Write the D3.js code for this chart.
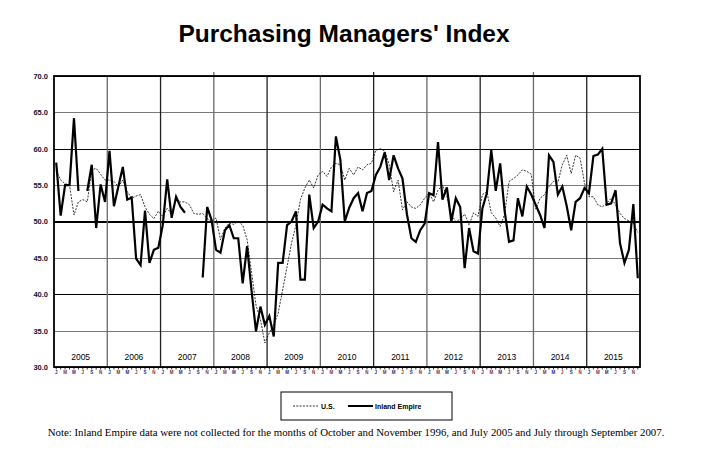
<!DOCTYPE html>
<html lang="en">
<head>
    <meta charset="UTF-8">
    <title>Purchasing Managers' Index</title>
    <style>
        body {
            margin: 0;
            padding: 0;
            background-color: white;
            font-family: "Liberation Sans", Arial, sans-serif;
        }
        .grid line { shape-rendering: crispEdges; }
    </style>
</head>
<body>
    <div id="container"></div>

    <script src="https://d3js.org/d3.v7.min.js"></script>
    <script>
        // years on the x axis, one band of 12 months each
        const years = ["2005", "2006", "2007", "2008", "2009", "2010", "2011", "2012", "2013", "2014", "2015"];
        const monthLetters = ["J", "F", "M", "A", "M", "J", "J", "A", "S", "O", "N", "D"];
        const yTicks = [30, 35, 40, 45, 50, 55, 60, 65, 70];

        // U.S. PMI, Jan 2005 .. Dec 2015
        const usValues = [
            57.0, 55.7, 55.2, 55.0, 50.9, 52.7, 53.0, 52.7, 57.1, 57.3, 56.5, 55.7,
            55.7, 55.5, 54.8, 55.7, 54.1, 53.2, 53.5, 53.7, 52.0, 51.0, 50.4, 51.4,
            50.7, 51.8, 51.0, 53.2, 52.7, 52.7, 52.3, 51.1, 51.0, 51.1, 50.4, 50.0,
            50.5, 47.5, 49.1, 49.8, 49.6, 50.0, 49.5, 47.5, 43.0, 38.5, 36.5, 33.3,
            34.7, 35.8, 37.4, 40.6, 43.8, 47.0, 49.5, 53.0, 54.6, 55.7, 54.6, 56.4,
            56.9, 56.2, 57.5, 58.0, 57.8, 55.7, 57.3, 56.4, 57.5, 57.1, 57.8, 58.0,
            59.8, 60.0, 59.7, 57.8, 54.1, 55.7, 51.6, 52.7, 52.0, 51.8, 52.3, 53.2,
            53.9, 52.7, 54.3, 55.0, 53.4, 50.9, 50.0, 50.3, 51.0, 49.5, 51.2, 50.7,
            53.7, 54.1, 51.2, 50.5, 49.3, 51.0, 55.5, 55.9, 56.4, 57.1, 56.9, 56.5,
            51.7, 53.2, 53.7, 54.8, 55.5, 55.4, 57.8, 59.1, 56.6, 59.1, 58.7, 55.3,
            53.4, 53.4, 52.3, 52.0, 52.5, 53.2, 52.3, 51.1, 50.4, 50.1, 49.8, 48.5
        ];

        // Inland Empire PMI, null = not collected
        const ieValues = [
            58.1, 50.8, 55.0, 55.0, 64.2, 54.2, null, 54.2, 57.8, 49.1, 55.1, 52.7,
            59.7, 52.1, 54.8, 57.5, 53.0, 53.3, 44.9, 44.0, 51.5, 44.3, 46.1, 46.4,
            49.5, 55.8, 50.5, 53.4, 52.0, 51.2, null, null, null, 42.3, 52.0, 50.2,
            46.1, 45.7, 48.8, 49.5, 47.7, 47.7, 41.5, 46.6, 40.5, 34.9, 38.3, 35.8,
            37.0, 34.2, 44.3, 44.3, 49.5, 50.0, 51.4, 42.0, 42.0, 53.7, 49.1, 50.0,
            52.3, 51.8, 51.4, 61.7, 58.5, 50.0, 51.9, 53.2, 53.9, 51.4, 53.9, 54.2,
            56.4, 57.5, 59.5, 55.7, 59.1, 57.3, 55.9, 51.0, 47.7, 47.2, 48.8, 49.7,
            53.9, 53.6, 60.9, 53.0, 54.7, 50.0, 53.2, 52.0, 43.6, 49.1, 45.9, 45.6,
            51.8, 53.9, 59.8, 54.2, 58.0, 51.5, 47.2, 47.4, 53.2, 50.7, 54.8, 53.7,
            52.3, 50.9, 49.1, 59.1, 58.2, 53.7, 54.8, 52.1, 48.8, 52.7, 53.2, 54.6,
            53.9, 59.0, 59.2, 60.0, 52.3, 52.5, 54.3, 47.0, 44.3, 46.1, 52.4, 42.2
        ];

        const width = 711, height = 463;
        const plotLeft = 54, plotRight = 640, plotTop = 76, plotBottom = 367;

        const svg = d3.select("#container")
            .append("svg")
            .attr("width", width)
            .attr("height", height)
            .style("display", "block");

        const months = d3.range(usValues.length);

        const x = d3.scaleBand()
            .domain(months)
            .range([plotLeft, plotRight])
            .padding(0);
        const xYear = d3.scaleBand()
            .domain(years)
            .range([plotLeft, plotRight]);
        const y = d3.scaleLinear()
            .domain([30, 70])
            .range([plotBottom, plotTop]);
        const cx = i => x(i) + x.bandwidth() / 2;

        // title
        svg.append("text")
            .attr("x", 344)
            .attr("y", 42)
            .attr("text-anchor", "middle")
            .style("font-size", "24.5px")
            .style("font-weight", "bold")
            .text("Purchasing Managers' Index");

        // horizontal grid + y labels
        const yAxis = svg.append("g")
            .attr("class", "grid")
            .attr("transform", `translate(${plotLeft},0)`)
            .call(d3.axisLeft(y)
                .tickValues(yTicks)
                .tickSize(-(plotRight - plotLeft))
                .tickPadding(6)
                .tickFormat(d3.format(".1f")));
        yAxis.select(".domain").remove();
        yAxis.selectAll(".tick line")
            .attr("stroke", (d, i) => i % 2 === 0 ? "#000" : "#7a7a7a")
            .attr("stroke-width", d => d === 50 ? 1.6 : 1.2);
        yAxis.selectAll(".tick text")
            .style("font-size", "7.5px")
            .style("font-weight", "bold")
            .style("font-family", "'Liberation Sans', Arial, sans-serif")
            .attr("fill", "#111133");

        // vertical year separators
        svg.append("g")
            .selectAll("line")
            .data(years.slice(1))
            .enter()
            .append("line")
            .attr("x1", d => xYear(d))
            .attr("x2", d => xYear(d))
            .attr("y1", (d, i) => i % 3 === 2 ? plotTop - 4 : plotTop)
            .attr("y2", plotBottom)
            .attr("stroke", (d, i) => i % 2 === 0 ? "#6a6a6a" : "#222")
            .attr("stroke-width", 1.3);

        // year labels
        svg.append("g")
            .selectAll("text")
            .data(years)
            .enter()
            .append("text")
            .attr("x", d => xYear(d) + xYear.bandwidth() / 2)
            .attr("y", 360)
            .attr("text-anchor", "middle")
            .style("font-size", "8.5px")
            .text(d => d);

        // month ticks & letters
        const xAxis = svg.append("g")
            .attr("transform", `translate(0,${plotBottom})`)
            .call(d3.axisBottom(x)
                .tickValues(months)
                .tickSize(2.5)
                .tickPadding(1)
                .tickFormat(i => i % 2 === 0 ? monthLetters[i % 12] : ""));
        xAxis.select(".domain").remove();
        xAxis.selectAll(".tick line").attr("stroke", "#000").attr("stroke-width", 0.8);
        xAxis.selectAll(".tick text")
            .style("font-size", "4.5px")
            .style("font-weight", "bold")
            .style("font-family", "'Liberation Sans', Arial, sans-serif")
            .attr("fill", (i) => (i / 2) % 2 === 0 ? "#1c2a8c" : "#8c2a2a");

        // plot frame
        svg.append("rect")
            .attr("x", plotLeft)
            .attr("y", plotTop)
            .attr("width", plotRight - plotLeft)
            .attr("height", plotBottom - plotTop)
            .attr("fill", "none")
            .attr("stroke", "#000")
            .attr("stroke-width", 1.8);

        // series
        const usLine = d3.line()
            .x((d, i) => cx(i))
            .y(d => y(d));
        const ieLine = d3.line()
            .defined(d => d !== null)
            .x((d, i) => cx(i))
            .y(d => y(d));

        svg.append("path")
            .datum(usValues)
            .attr("d", usLine)
            .attr("fill", "none")
            .attr("stroke", "#000")
            .attr("stroke-width", 0.8)
            .attr("stroke-dasharray", "2,1.3");

        svg.append("path")
            .datum(ieValues)
            .attr("d", ieLine)
            .attr("fill", "none")
            .attr("stroke", "#000")
            .attr("stroke-width", 2.2)
            .attr("stroke-linejoin", "miter");

        // legend
        const legend = svg.append("g");
        legend.append("rect")
            .attr("x", 281)
            .attr("y", 392)
            .attr("width", 171)
            .attr("height", 28)
            .attr("fill", "none")
            .attr("stroke", "#000")
            .attr("stroke-width", 1);
        legend.append("line")
            .attr("x1", 293).attr("x2", 318)
            .attr("y1", 406).attr("y2", 406)
            .attr("stroke", "#000")
            .attr("stroke-width", 0.8)
            .attr("stroke-dasharray", "2,1.3");
        legend.append("text")
            .attr("x", 321).attr("y", 408.5)
            .style("font-size", "7px")
            .style("font-weight", "bold")
            .text("U.S.");
        legend.append("line")
            .attr("x1", 348).attr("x2", 373)
            .attr("y1", 406).attr("y2", 406)
            .attr("stroke", "#000")
            .attr("stroke-width", 2);
        legend.append("text")
            .attr("x", 375).attr("y", 408.5)
            .style("font-size", "7px")
            .style("font-weight", "bold")
            .text("Inland Empire");

        // note
        svg.append("text")
            .attr("x", 356)
            .attr("y", 436)
            .attr("text-anchor", "middle")
            .style("font-family", "'Liberation Serif', 'Times New Roman', serif")
            .style("font-size", "10.85px")
            .text("Note: Inland Empire data were not collected for the months of October and November 1996, and July 2005 and July through September 2007.");
    </script>
</body>
</html>
